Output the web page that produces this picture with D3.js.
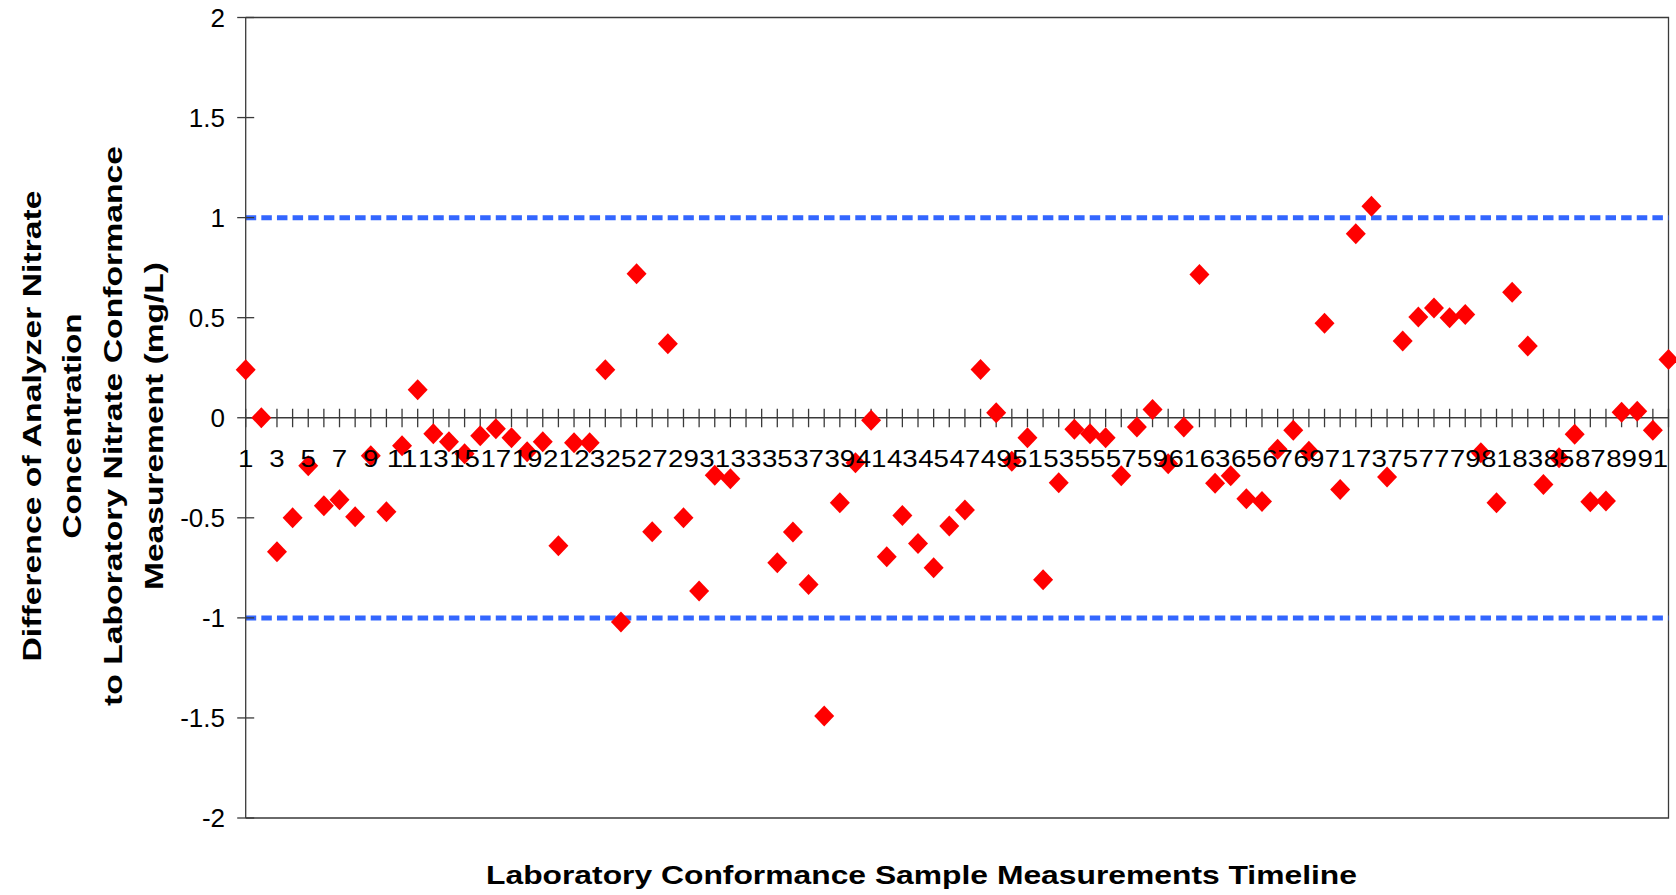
<!DOCTYPE html>
<html>
<head>
<meta charset="utf-8">
<script src="https://cdn.jsdelivr.net/npm/d3@7"></script>
<style>
  html, body { margin: 0; padding: 0; background: #ffffff; }
  svg { display: block; }
  text { font-family: "Liberation Sans", Arial, sans-serif; }
</style>
</head>
<body>
<svg id="chart" width="1676" height="895"></svg>
<script>
// ---------------- data ----------------
const categories = [1,2,3,4,5,6,7,8,9,10,11,12,13,14,15,16,17,18,19,20,21,22,23,24,25,26,27,28,29,30,
  31,32,33,34,35,36,37,38,39,40,41,42,43,44,45,46,47,48,49,50,51,52,53,54,55,56,57,58,59,60,
  61,62,63,64,65,66,67,68,69,70,71,72,73,74,75,76,77,78,79,80,81,82,83,84,85,86,87,88,89,90,91,92];

const differences = [0.24, 0.00, -0.67, -0.50, -0.24, -0.44, -0.41, -0.495, -0.19, -0.47,
  -0.14, 0.14, -0.08, -0.12, -0.18, -0.09, -0.055, -0.10, -0.17, -0.12,
  -0.64, -0.125, -0.125, 0.24, -1.02, 0.72, -0.57, 0.37, -0.50, -0.866,
  -0.287, -0.305, null, null, -0.724, -0.571, -0.833, -1.49, -0.425, -0.225,
  -0.012, -0.694, -0.488, -0.628, -0.75, -0.541, -0.461, 0.241, 0.025, -0.217,
  -0.10, -0.81, -0.325, -0.058, -0.08, -0.10, -0.29, -0.046, 0.041, -0.23,
  -0.046, 0.716, -0.327, -0.29, -0.405, -0.418, -0.158, -0.062, -0.167, 0.472,
  -0.358, 0.92, 1.057, -0.296, 0.383, 0.504, 0.549, 0.50, 0.516, -0.175,
  -0.425, 0.627, 0.358, -0.333, -0.20, -0.083, -0.42, -0.416, 0.028, 0.033,
  -0.063, 0.291];

const xTickLabels = [1,3,5,7,9,11,13,15,17,19,21,23,25,27,29,31,33,35,37,39,41,43,45,
  47,49,51,53,55,57,59,61,63,65,67,69,71,73,75,77,79,81,83,85,87,89,91];
const yTicks = [-2, -1.5, -1, -0.5, 0, 0.5, 1, 1.5, 2];
const limitLines = [1, -1];

const yTitleLines = ["Difference of Analyzer Nitrate", "Concentration",
  "to Laboratory Nitrate Conformance", "Measurement (mg/L)"];
const xTitle = "Laboratory Conformance Sample Measurements Timeline";

// ---------------- layout ----------------
const plotLeft = 245.7, plotRight = 1668.5, plotTop = 17.5, plotBottom = 818;
const svg = d3.select("#chart");

const x = d3.scaleLinear().domain([1, 92]).range([plotLeft, plotRight]);
const y = d3.scaleLinear().domain([-2, 2]).range([plotBottom, plotTop]);

const axisColor = "#3a3a3a";

// plot border (top, right, bottom)
svg.append("path")
  .attr("d", `M${plotLeft},${plotTop} H${plotRight} V${plotBottom} H${plotLeft}`)
  .attr("fill", "none").attr("stroke", axisColor).attr("stroke-width", 1.3);

// limit lines
svg.selectAll("line.limit").data(limitLines).join("line")
  .attr("class", "limit")
  .attr("x1", plotLeft).attr("x2", plotRight)
  .attr("y1", d => y(d)).attr("y2", d => y(d))
  .attr("stroke", "#3366ff").attr("stroke-width", 5)
  .attr("stroke-dasharray", "10.5,5.13");

// y axis line
svg.append("line").attr("x1", plotLeft).attr("x2", plotLeft).attr("y1", plotTop).attr("y2", plotBottom)
  .attr("stroke", axisColor).attr("stroke-width", 1.3);

// y ticks (cross)
svg.selectAll("line.ytick").data(yTicks).join("line")
  .attr("class", "ytick")
  .attr("x1", plotLeft - 8.5).attr("x2", plotLeft + 8.5)
  .attr("y1", d => y(d)).attr("y2", d => y(d))
  .attr("stroke", axisColor).attr("stroke-width", 1.3);

svg.selectAll("text.ylab").data(yTicks).join("text")
  .attr("class", "ylab")
  .attr("x", 225).attr("y", d => y(d)).attr("dy", "0.36em")
  .attr("text-anchor", "end").attr("font-size", 26).attr("fill", "#000")
  .text(d => String(d));

// x axis line at 0
svg.append("line").attr("x1", plotLeft).attr("x2", plotRight).attr("y1", y(0)).attr("y2", y(0))
  .attr("stroke", axisColor).attr("stroke-width", 1.3);

svg.selectAll("line.xtick").data(categories).join("line")
  .attr("class", "xtick")
  .attr("x1", d => x(d)).attr("x2", d => x(d))
  .attr("y1", y(0) - 9).attr("y2", y(0) + 9.5)
  .attr("stroke", axisColor).attr("stroke-width", 1.3);

// points
const pts = categories.map((c, i) => ({c, v: differences[i]})).filter(d => d.v !== null);
svg.selectAll("path.pt").data(pts).join("path")
  .attr("class", "pt")
  .attr("transform", d => `translate(${x(d.c)},${y(d.v)})`)
  .attr("d", "M0,-10.5 L10,0 L0,10.5 L-10,0 Z")
  .attr("fill", "#ff0000");

// x tick labels
svg.selectAll("text.xlab").data(xTickLabels).join("text")
  .attr("class", "xlab")
  .attr("x", d => x(d)).attr("y", 467)
  .attr("text-anchor", "middle").attr("font-size", 24.5).attr("fill", "#000")
  .attr("textLength", d => String(d).length * 15.4).attr("lengthAdjust", "spacingAndGlyphs")
  .text(d => d);

// y title
const yTitleBaselines = [40.5, 81.3, 122.3, 163];
const yTitleLengths = [471, 225, 560, 328];
const yTitleCenter = 426;
svg.selectAll("text.ytitle").data(yTitleLines).join("text")
  .attr("class", "ytitle")
  .attr("transform", (d, i) => `translate(${yTitleBaselines[i]},${yTitleCenter}) rotate(-90)`)
  .attr("text-anchor", "middle").attr("font-size", 26).attr("font-weight", "bold")
  .attr("textLength", (d, i) => yTitleLengths[i]).attr("lengthAdjust", "spacingAndGlyphs")
  .text(d => d);

// x title
svg.append("text")
  .attr("x", 921.5).attr("y", 883.5)
  .attr("text-anchor", "middle").attr("font-size", 26).attr("font-weight", "bold")
  .attr("textLength", 871).attr("lengthAdjust", "spacingAndGlyphs")
  .text(xTitle);
</script>
</body>
</html>
